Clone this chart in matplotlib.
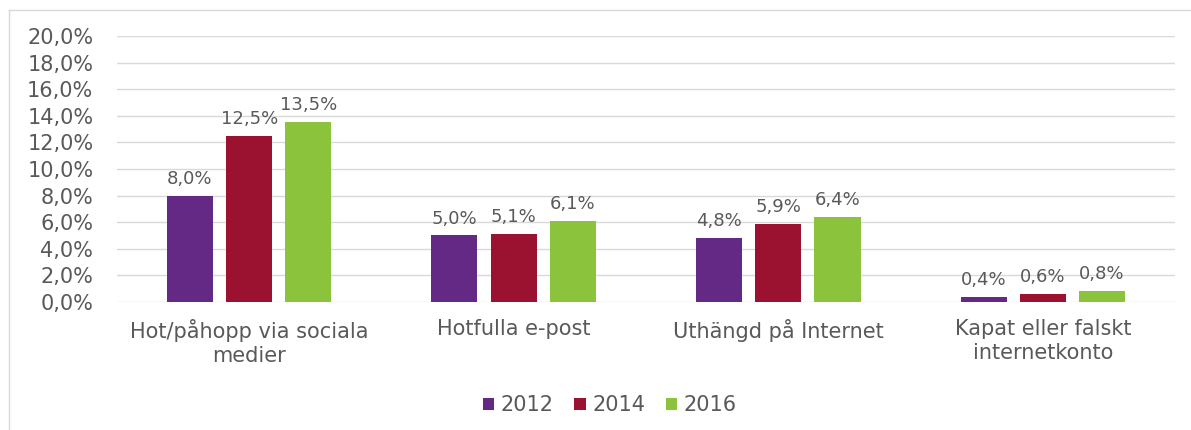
import numpy as np
import matplotlib
matplotlib.use("Agg")
import matplotlib.pyplot as plt
from matplotlib.lines import Line2D

categories = ["Hot/påhopp via sociala\nmedier", "Hotfulla e-post",
              "Uthängd på Internet", "Kapat eller falskt\ninternetkonto"]
years = ["2012", "2014", "2016"]
v2012 = [8.0, 5.0, 4.8, 0.4]
v2014 = [12.5, 5.1, 5.9, 0.6]
v2016 = [13.5, 6.1, 6.4, 0.8]
yticks = [0, 2, 4, 6, 8, 10, 12, 14, 16, 18, 20]

colors = ["#642885", "#9B1230", "#8BC33D"]
txt = "#595959"

plt.rcParams["font.family"] = ["DejaVu Sans"]

fig = plt.figure(figsize=(11.91, 4.30), dpi=100)
ax = fig.add_axes([0.0982, 0.2977, 0.8884, 0.6186])

x = np.arange(len(categories))
w = 0.174
step = 0.224
for i, (vals, c, yr) in enumerate(zip([v2012, v2014, v2016], colors, years)):
    pos = x + (i - 1) * step
    ax.bar(pos, vals, width=w, color=c, label=yr, zorder=3)
    for p, v in zip(pos, vals):
        ax.text(p, v + 0.6, f"{v:.1f}%".replace(".", ","), ha="center",
                va="bottom", fontsize=13, color=txt)

ax.set_xlim(-0.5, len(categories) - 0.5)
ax.set_ylim(0, 20)
ax.set_yticks(yticks)
ax.set_yticklabels([f"{t:.1f}%".replace(".", ",") for t in yticks],
                   fontsize=15, color=txt)
ax.set_xticks(x)
ax.set_xticklabels(categories, fontsize=15, color=txt, linespacing=1.3)
ax.tick_params(length=0)
ax.tick_params(axis="y", pad=17)
ax.tick_params(axis="x", pad=12)
ax.grid(axis="y", color="#D9D9D9", linewidth=1, zorder=0)
for s in ax.spines.values():
    s.set_visible(False)

ax.legend(loc="center", bbox_to_anchor=(0.512, 0.0575), bbox_transform=fig.transFigure,
          ncol=3, frameon=False, fontsize=15, labelcolor=txt,
          handlelength=0.55, handleheight=0.55, handletextpad=0.3, columnspacing=1.0)

# chart frame (top and left edges visible)
fig.add_artist(Line2D([9 / 1191, 9 / 1191], [0, 1 - 10 / 430],
                      transform=fig.transFigure, color="#D9D9D9", lw=1))
fig.add_artist(Line2D([9 / 1191, 1], [1 - 10 / 430, 1 - 10 / 430],
                      transform=fig.transFigure, color="#D9D9D9", lw=1))

fig.savefig("out.png", dpi=100)
